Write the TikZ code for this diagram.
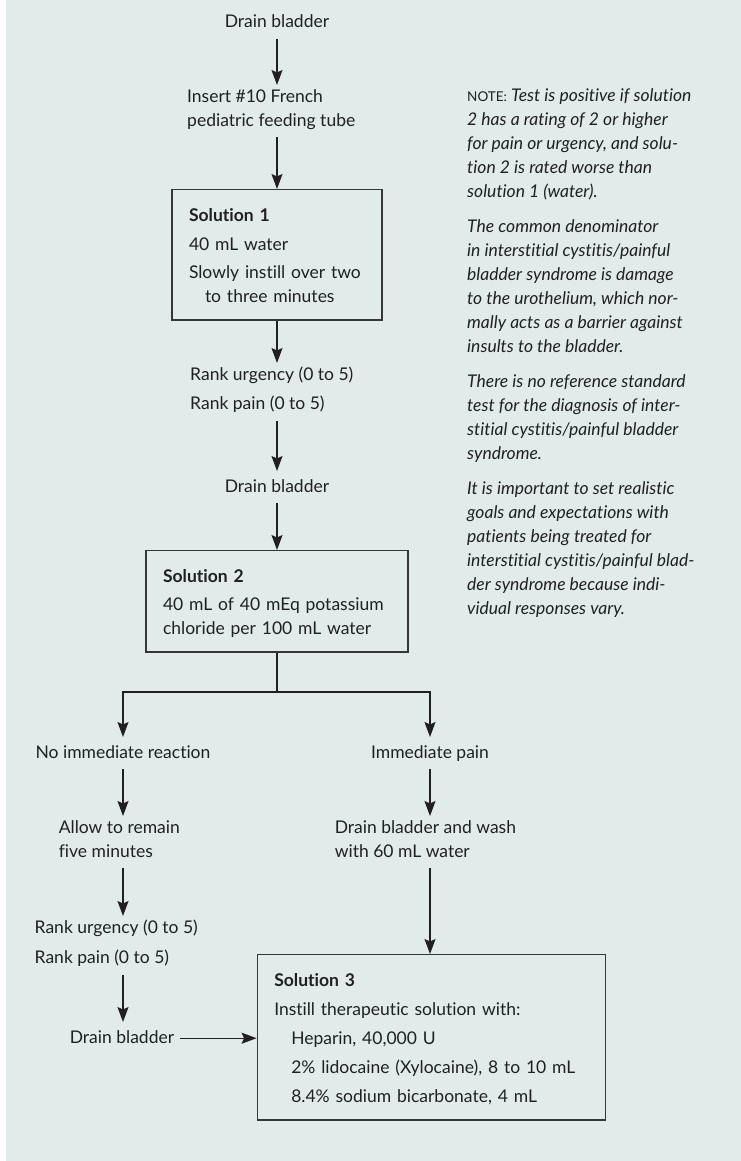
\documentclass[tikz,border=0pt]{standalone}
\usepackage{fontspec}
\setmainfont{Lato}[Ligatures=NoCommon]
\usetikzlibrary{arrows.meta, positioning}

\definecolor{panel}{HTML}{E0EBEA}
\definecolor{ink}{HTML}{231F20}
\newcommand{\topstrut}{\rule{0pt}{22pt}}
\newcommand{\notecap}{{\upshape\fontsize{13.5}{24}\selectfont NOTE:}}

\begin{document}
\begin{tikzpicture}[x=1pt, y=-1pt, >={Stealth[length=15pt, width=11pt, inset=2.5pt]},
    every node/.style={text=ink, font=\fontsize{17.5}{24}\selectfont},
    stage/.style={inner xsep=0pt, inner ysep=4pt, align=left,
        execute at begin node=\strut, execute at end node=\strut},
    solbox/.style={draw=ink!90, line width=1.3pt, inner xsep=17pt, inner ysep=10pt, align=left},
    flow/.style={draw=ink, line width=1.3pt}]
    \useasboundingbox (0,0) rectangle (741,1161);
    \fill[panel] (6,0) rectangle (741,1161);

    % Nodes: main column
    \node[stage, anchor=base] (drain1) at (277,28) {Drain bladder};
    \node[stage, anchor=north west] (insert) at (187,85) {Insert \#10 French\\pediatric feeding tube};
    \node[solbox, anchor=north, text width=176pt] (sol1) at (277,189)
        {\topstrut\textbf{Solution 1}\\[4.5pt]40 mL water\\[4.5pt]Slowly instill over two\\\hspace*{16pt}to three minutes\strut};
    \node[stage, anchor=north west] (rank1) at (190,363) {Rank urgency (0 to 5)\\[5pt]Rank pain (0 to 5)};
    \node[stage, anchor=base] (drain2) at (277,492) {Drain bladder};
    \node[solbox, anchor=north, text width=228pt] (sol2) at (277,550)
        {\topstrut\textbf{Solution 2}\\[4pt]40 mL of 40 mEq potassium\\chloride per 100 mL water\strut};

    % Nodes: the two branches
    \coordinate (split) at (277,692);
    \node[stage, anchor=base] (noreact) at (123,758) {No immediate reaction};
    \node[stage, anchor=base] (pain) at (430,758) {Immediate pain};
    \node[stage, anchor=north west] (remain) at (58.6,816) {Allow to remain\\five minutes};
    \node[stage, anchor=north west] (wash) at (334.6,816) {Drain bladder and wash\\with 60 mL water};
    \node[stage, anchor=north west] (rank2) at (34.5,916) {Rank urgency (0 to 5)\\[6pt]Rank pain (0 to 5)};
    \node[stage, anchor=base] (drain3) at (122,1043) {Drain bladder};
    \node[solbox, anchor=north west, text width=314pt] (sol3) at (256.6,954)
        {\topstrut\textbf{Solution 3}\\[5pt]Instill therapeutic solution with:\\[5pt]%
        \hspace*{17pt}Heparin, 40,000 U\\[5pt]%
        \hspace*{17pt}2\% lidocaine (Xylocaine), 8 to 10 mL\\[5pt]%
        \hspace*{17pt}8.4\% sodium bicarbonate, 4 mL\strut};

    % Side notes
    \node[stage, anchor=north west, font={\fontsize{17.5}{24}\selectfont\itshape}] (note) at (467,84)
        {\notecap{} Test is positive if solution\\
        2 has a rating of 2 or higher\\
        for pain or urgency, and solu-\\
        tion 2 is rated worse than\\
        solution 1 (water).\\[11pt]
        The common denominator\\
        in interstitial cystitis/painful\\
        bladder syndrome is damage\\
        to the urothelium, which nor-\\
        mally acts as a barrier against\\
        insults to the bladder.\\[11pt]
        There is no reference standard\\
        test for the diagnosis of inter-\\
        stitial cystitis/painful bladder\\
        syndrome.\\[11pt]
        It is important to set realistic\\
        goals and expectations with\\
        patients being treated for\\
        interstitial cystitis/painful blad-\\
        der syndrome because indi-\\
        vidual responses vary.};

    % Arrows: main column
    \draw[flow, ->] (drain1) -- (drain1 |- insert.north);
    \draw[flow, ->] (insert.south -| drain1) -- (sol1);
    \draw[flow, ->] (sol1) -- (sol1 |- rank1.north);
    \draw[flow, ->] (sol1 |- rank1.south) -- (drain2);
    \draw[flow, ->] (drain2) -- (sol2);

    % Arrows: split and branches
    \draw[flow] (sol2) -- (split);
    \draw[flow, ->] (split) -| (noreact);
    \draw[flow, ->] (split) -| (pain);
    \draw[flow, ->] (noreact) -- (noreact |- remain.north);
    \draw[flow, ->] (noreact |- remain.south) -- (noreact |- rank2.north);
    \draw[flow, ->] (noreact |- rank2.south) -- (noreact |- drain3.north);
    \draw[flow, ->, shorten <=6pt] (drain3.east) -- (drain3.east -| sol3.west);
    \draw[flow, ->] (pain) -- (pain |- wash.north);
    \draw[flow, ->] (pain |- wash.south) -- (pain |- sol3.north);
\end{tikzpicture}
\end{document}
